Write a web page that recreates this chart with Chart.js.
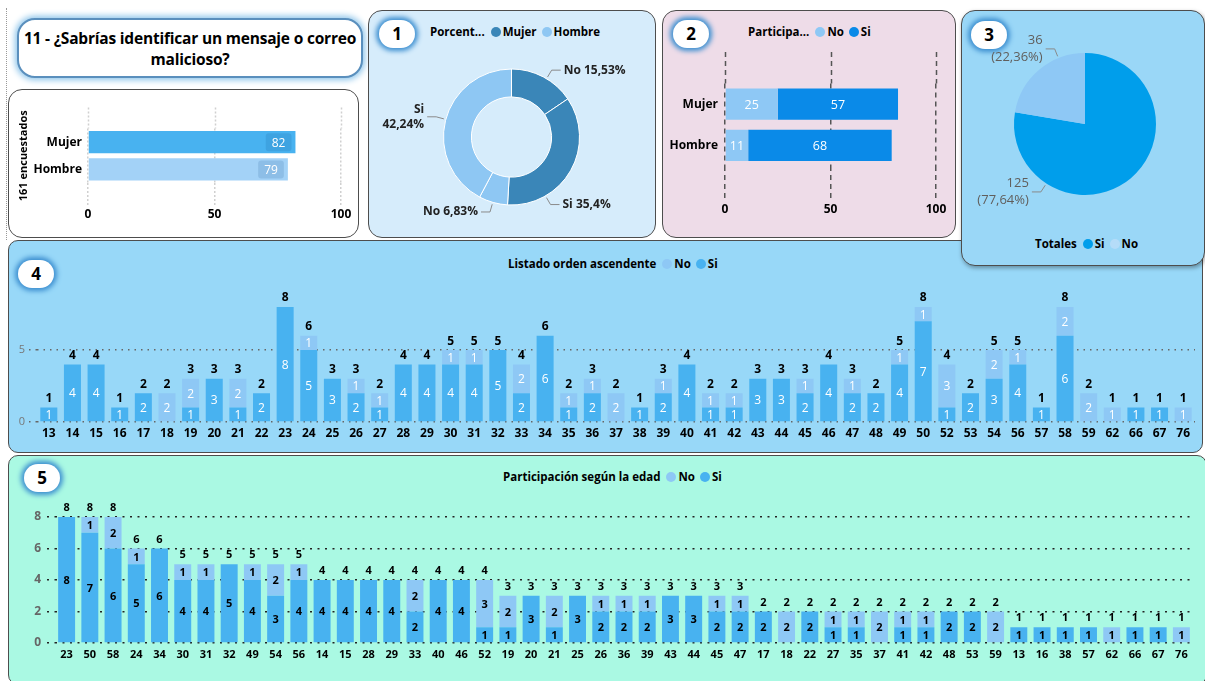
<!DOCTYPE html>
<html>
<head>
<meta charset="utf-8">
<script src="https://cdn.jsdelivr.net/npm/chart.js@4.4.0/dist/chart.umd.min.js"></script>
<style>
body{margin:0;width:1205px;height:681px;position:relative;overflow:hidden;background:#fff;font-family:"Open Sans",sans-serif;color:#000;}
.panel{position:absolute;border:1px solid #4d4d4d;border-radius:14px;box-sizing:border-box;}
.box{position:absolute;}
.badge{position:absolute;width:36px;height:28px;background:#fff;border-radius:14px;box-shadow:0 0 5px 3px #3d8fd0;font-weight:bold;font-size:17px;text-align:center;line-height:28px;}
.legend{position:absolute;font-size:11.5px;font-weight:bold;white-space:nowrap;line-height:14px;}
.dot{display:inline-block;width:10px;height:10px;border-radius:50%;margin:0 2px 0 5px;vertical-align:-1px;}
#title{position:absolute;left:17px;top:18px;width:346px;height:60px;box-sizing:border-box;background:#fff;border:2px solid #5a8fbd;border-radius:18px;box-shadow:0 0 6px 2px #8cc4ea;font-weight:bold;font-size:15.5px;letter-spacing:-0.2px;line-height:21px;text-align:center;padding-top:8px;white-space:nowrap;}
</style>
</head>
<body>
<div style="position:absolute;left:6px;top:8px;height:232px;border-left:1px dotted #999;"></div>

<div id="title">11 - ¿Sabrías identificar un mensaje o correo<br>malicioso?</div>

<div class="panel" style="left:8px;top:89px;width:351px;height:149px;background:#fff;"></div>
<div class="panel" style="left:368px;top:10px;width:288px;height:228px;background:#d6ecfb;"></div>
<div class="panel" style="left:662px;top:10px;width:294px;height:228px;background:#eedce8;"></div>
<div class="panel" style="left:8px;top:240px;width:1195px;height:213px;background:#98d8f8;border-radius:10px;"></div>
<div class="panel" style="left:961px;top:10px;width:244px;height:256px;background:#9ad7f7;box-shadow:1px 2px 4px rgba(0,0,0,0.35);"></div>
<div class="panel" style="left:8px;top:455px;width:1199px;height:230px;background:#aaf9e3;border-radius:10px;"></div>

<div class="badge" style="left:379px;top:20px;">1</div>
<div class="badge" style="left:673px;top:20px;">2</div>
<div class="badge" style="left:971px;top:21px;">3</div>
<div class="badge" style="left:18px;top:260px;">4</div>
<div class="badge" style="left:24px;top:464px;">5</div>

<div class="legend" style="left:430px;top:25px;">Porcent... <span class="dot" style="background:#3a86b8;margin-left:3px"></span>Mujer<span class="dot" style="background:#8ec7f3"></span>Hombre</div>
<div class="legend" style="left:748px;top:25px;">Participa... <span class="dot" style="background:#8ec8f5;margin-left:3px"></span>No<span class="dot" style="background:#0a8ae8"></span>Si</div>
<div class="legend" style="left:1035px;top:237px;">Totales <span class="dot" style="background:#009eeb;margin-left:3px"></span>Si<span class="dot" style="background:#b5dcf8"></span>No</div>
<div class="legend" style="left:508px;top:257px;">Listado orden ascendente <span class="dot" style="background:#8ec8f5;margin-left:3px"></span>No<span class="dot" style="background:#48b2f0"></span>Si</div>
<div class="legend" style="left:503px;top:470px;">Participación según la edad <span class="dot" style="background:#8ec8f5;margin-left:3px"></span>No<span class="dot" style="background:#48b2f0"></span>Si</div>

<div class="box" style="left:14px;top:100px;width:340px;height:123px;"><canvas id="cA"></canvas></div>
<div class="box" style="left:368px;top:52px;width:287px;height:170px;"><canvas id="c1"></canvas></div>
<div class="box" style="left:662px;top:50px;width:288px;height:166px;"><canvas id="c2"></canvas></div>
<div class="box" style="left:961px;top:20px;width:248px;height:208px;"><canvas id="c3"></canvas></div>
<div class="box" style="left:14px;top:282px;width:1190px;height:162px;"><canvas id="c4"></canvas></div>
<div class="box" style="left:14px;top:495px;width:1190px;height:172px;"><canvas id="c5"></canvas></div>

<script>
const genders = ['Mujer', 'Hombre'];
const genderTotals = [82, 79];
const genderNo = [25, 11];
const genderSi = [57, 68];

const donutLabels = ['Mujer No', 'Mujer Si', 'Hombre No', 'Hombre Si'];
const donutValues = [25, 57, 11, 68];
const donutText = ['No 15,53%', 'Si 35,4%', 'No 6,83%', 'Si\n42,24%'];

const totalLabels = ['Si', 'No'];
const totalValues = [125, 36];
const totalText = ['125\n(77,64%)', '36\n(22,36%)'];

const ages = ['13','14','15','16','17','18','19','20','21','22','23','24','25','26','27','28','29','30','31','32','33','34','35','36','37','38','39','40','41','42','43','44','45','46','47','48','49','50','52','53','54','56','57','58','59','62','66','67','76'];
const agesSi = [1,4,4,1,2,0,1,3,1,2,8,5,3,2,1,4,4,4,4,5,2,6,1,2,0,1,2,4,1,1,3,3,2,4,2,2,4,7,1,2,3,4,1,6,0,0,1,1,0];
const agesNo = [0,0,0,0,0,2,2,0,2,0,0,1,0,1,1,0,0,1,1,0,2,0,1,1,2,0,1,0,1,1,0,0,1,0,1,0,1,1,3,0,2,1,0,2,2,1,0,0,1];
const agesByTotal = ['23','50','58','24','34','30','31','32','49','54','56','14','15','28','29','33','40','46','52','19','20','21','25','26','36','39','43','44','45','47','17','18','22','27','35','37','41','42','48','53','59','13','16','38','57','62','66','67','76'];

// colours
const SI_BAR = '#48b2f0';
const NO_BAR = '#8ec8f5';

Chart.defaults.font.family = '"Open Sans", sans-serif';
Chart.defaults.animation = false;
Chart.defaults.plugins.legend.display = false;
Chart.defaults.plugins.tooltip.enabled = false;
Chart.defaults.responsive = true;
Chart.defaults.maintainAspectRatio = false;

// writes the values on bar segments, totals above stacks
const barText = {
    id: 'barText',
    afterDatasetsDraw(chart, args, o) {
        const ctx = chart.ctx;
        const horiz = chart.options.indexAxis === 'y';
        ctx.save();
        ctx.textAlign = 'center';
        ctx.textBaseline = 'middle';
        chart.data.datasets.forEach((ds, i) => {
            const meta = chart.getDatasetMeta(i);
            meta.data.forEach((bar, j) => {
                const v = ds.data[j];
                if (!v) return;
                const p = bar.getProps(['x', 'y', 'base'], true);
                ctx.font = o.font;
                if (o.box) {
                    const w = ctx.measureText(v).width + 12;
                    ctx.fillStyle = 'rgba(0,60,120,0.13)';
                    ctx.beginPath();
                    ctx.roundRect(p.x - 4 - w, p.y - 9, w, 18, 3);
                    ctx.fill();
                    ctx.fillStyle = o.color;
                    ctx.fillText(v, p.x - 4 - w / 2, p.y + 1);
                } else if (horiz) {
                    ctx.fillStyle = o.color;
                    ctx.fillText(v, (p.x + p.base) / 2, p.y + 1);
                } else {
                    ctx.fillStyle = o.color;
                    ctx.fillText(v, p.x, (p.y + p.base) / 2 + 1);
                }
            });
        });
        if (o.totals) {
            const yScale = chart.scales.y;
            const meta = chart.getDatasetMeta(0);
            ctx.font = o.totalFont;
            ctx.fillStyle = '#000';
            chart.data.labels.forEach((l, j) => {
                let t = 0;
                chart.data.datasets.forEach(ds => { t += ds.data[j]; });
                ctx.fillText(t, meta.data[j].x, yScale.getPixelForValue(t) - 9);
            });
        }
        ctx.restore();
    }
};

// draws the x grid lines a bit above the plot area
const gridUp = {
    id: 'gridUp',
    beforeDatasetsDraw(chart, args, o) {
        if (!o.up) return;
        const ctx = chart.ctx, xs = chart.scales.x, top = chart.chartArea.top;
        ctx.save();
        ctx.strokeStyle = o.color;
        ctx.lineWidth = o.width;
        ctx.setLineDash(o.dash);
        xs.ticks.forEach(t => {
            const x = Math.round(xs.getPixelForValue(t.value)) + 0.5;
            ctx.beginPath();
            ctx.moveTo(x, top - o.up);
            ctx.lineTo(x, top);
            ctx.stroke();
        });
        ctx.restore();
    }
};

// outside labels with leader lines for the pies
const arcText = {
    id: 'arcText',
    afterDatasetsDraw(chart, args, o) {
        const ctx = chart.ctx;
        const meta = chart.getDatasetMeta(0);
        ctx.save();
        ctx.font = o.font;
        ctx.fillStyle = o.color;
        ctx.strokeStyle = '#8a8a8a';
        ctx.lineWidth = 1;
        ctx.textBaseline = 'middle';
        meta.data.forEach((arc, i) => {
            const p = arc.getProps(['x', 'y', 'outerRadius'], true);
            const a = (o.angles[i] - 90) * Math.PI / 180;
            const c = Math.cos(a), s = Math.sin(a);
            const x0 = p.x + c * (p.outerRadius + 2), y0 = p.y + s * (p.outerRadius + 2);
            const x1 = p.x + c * (p.outerRadius + 10), y1 = p.y + s * (p.outerRadius + 10);
            const dir = c >= 0 ? 1 : -1;
            const x2 = x1 + dir * 9;
            ctx.beginPath();
            ctx.moveTo(x0, y0);
            ctx.lineTo(x1, y1);
            ctx.lineTo(x2, y1);
            ctx.stroke();
            ctx.textAlign = dir > 0 ? 'left' : 'right';
            const lines = o.text[i].split('\n');
            lines.forEach((t, k) => {
                ctx.fillText(t, x2 + dir * 3, y1 + (k - (lines.length - 1) / 2) * o.lineHeight);
            });
        });
        ctx.restore();
    }
};

const boldBlack = { color: '#000', font: { weight: 'bold', size: 12 } };

// ---- top-left: respondents by gender ----
new Chart(document.getElementById('cA'), {
    type: 'bar',
    data: {
        labels: genders,
        datasets: [{ data: genderTotals, backgroundColor: [SI_BAR, '#a3d2f7'] }]
    },
    options: {
        indexAxis: 'y',
        layout: { padding: { top: 28.5, right: 13 } },
        datasets: { bar: { categoryPercentage: 1, barPercentage: 0.82 } },
        plugins: {
            barText: { font: '12px "Open Sans"', color: '#fff', box: true },
            gridUp: { up: 21, color: '#d0d0d0', width: 1.5, dash: [2, 2] }
        },
        scales: {
            x: {
                min: 0, max: 100,
                ticks: { stepSize: 50, padding: 2, ...boldBlack },
                grid: { color: '#d0d0d0', lineWidth: 1.5, tickLength: 22, tickColor: '#d0d0d0', tickBorderDash: [2, 2] },
                border: { display: false, dash: [2, 2] },
                afterFit: s => { s.height = 40; }
            },
            y: {
                ticks: { padding: 6, ...boldBlack },
                grid: { display: false, drawTicks: false },
                border: { display: false },
                title: { display: true, text: '161 encuestados', color: '#000', font: { weight: 'bold', size: 11 }, padding: 3 },
                afterFit: s => { s.width = 74; }
            }
        }
    },
    plugins: [barText, gridUp]
});

// ---- 1: donut by gender and answer ----
new Chart(document.getElementById('c1'), {
    type: 'doughnut',
    data: {
        labels: donutLabels,
        datasets: [{
            data: donutValues,
            backgroundColor: ['#3a86b8', '#3a86b8', '#8ec7f3', '#8ec7f3'],
            borderColor: '#ffffff',
            borderWidth: 1
        }]
    },
    options: {
        radius: 68,
        cutout: '59%',
        plugins: {
            arcText: { text: donutText, angles: [31, 150, 196, 285], font: 'bold 12px "Open Sans"', color: '#222', lineHeight: 15 }
        }
    },
    plugins: [arcText]
});

// ---- 2: participation by gender ----
new Chart(document.getElementById('c2'), {
    type: 'bar',
    data: {
        labels: genders,
        datasets: [
            { label: 'No', data: genderNo, backgroundColor: NO_BAR },
            { label: 'Si', data: genderSi, backgroundColor: '#0a8ae8' }
        ]
    },
    options: {
        indexAxis: 'y',
        layout: { padding: { top: 33.5, right: 14 } },
        datasets: { bar: { categoryPercentage: 1, barPercentage: 0.76 } },
        plugins: {
            barText: { font: '12.5px "Open Sans"', color: '#fff' },
            gridUp: { up: 31.5, color: '#555', width: 1.5, dash: [5, 4] }
        },
        scales: {
            x: {
                stacked: true, min: 0, max: 100,
                ticks: { stepSize: 50, padding: 2, ...boldBlack },
                grid: { color: '#555', lineWidth: 1.5, tickLength: 34.5, tickColor: '#555', tickBorderDash: [5, 4] },
                border: { display: false, dash: [5, 4] },
                afterFit: s => { s.height = 50; }
            },
            y: {
                stacked: true,
                ticks: { padding: 7, ...boldBlack },
                grid: { display: false, drawTicks: false },
                border: { display: false },
                afterFit: s => { s.width = 63; }
            }
        }
    },
    plugins: [barText, gridUp]
});

// ---- 3: totals pie ----
new Chart(document.getElementById('c3'), {
    type: 'pie',
    data: {
        labels: totalLabels,
        datasets: [{ data: totalValues, backgroundColor: ['#009eeb', '#8ec8f5'], borderWidth: 0 }]
    },
    options: {
        radius: 71,
        plugins: {
            arcText: { text: totalText, angles: [213, 338], font: '13px "Open Sans"', color: '#605e5c', lineHeight: 17 }
        }
    },
    plugins: [arcText]
});

// ---- 4: ages ascending ----
new Chart(document.getElementById('c4'), {
    type: 'bar',
    data: {
        labels: ages,
        datasets: [
            { label: 'Si', data: agesSi, backgroundColor: SI_BAR },
            { label: 'No', data: agesNo, backgroundColor: NO_BAR }
        ]
    },
    options: {
        layout: { padding: { top: 7, right: 9 } },
        datasets: { bar: { categoryPercentage: 1, barPercentage: 0.72 } },
        plugins: {
            barText: { font: '12px "Open Sans"', color: '#fff', totals: true, totalFont: 'bold 12px "Open Sans"' }
        },
        scales: {
            x: {
                stacked: true,
                ticks: { autoSkip: false, maxRotation: 0, padding: 4, ...boldBlack },
                grid: { display: false, drawTicks: false },
                border: { display: false },
                afterFit: s => { s.height = 22; }
            },
            y: {
                stacked: true, min: 0, max: 9,
                afterBuildTicks: s => { s.ticks = s.ticks.filter(t => t.value % 5 === 0); },
                ticks: { color: '#777', font: { size: 11 }, padding: 4 },
                grid: { color: '#666', lineWidth: 1.5, tickLength: 8, tickColor: '#666', tickBorderDash: [1.5, 5] },
                border: { display: false, dash: [1.5, 5] },
                afterFit: s => { s.width = 23; }
            }
        }
    },
    plugins: [barText]
});

// ---- 5: ages sorted by participation ----
const sortedSi = agesByTotal.map(a => agesSi[ages.indexOf(a)]);
const sortedNo = agesByTotal.map(a => agesNo[ages.indexOf(a)]);

new Chart(document.getElementById('c5'), {
    type: 'bar',
    data: {
        labels: agesByTotal,
        datasets: [
            { label: 'Si', data: sortedSi, backgroundColor: SI_BAR },
            { label: 'No', data: sortedNo, backgroundColor: NO_BAR }
        ]
    },
    options: {
        layout: { padding: { top: 22, right: 11 } },
        datasets: { bar: { categoryPercentage: 1, barPercentage: 0.73 } },
        plugins: {
            barText: { font: 'bold 11px "Open Sans"', color: '#000', totals: true, totalFont: 'bold 11px "Open Sans"' }
        },
        scales: {
            x: {
                stacked: true,
                ticks: { autoSkip: false, maxRotation: 0, padding: 5, color: '#000', font: { weight: 'bold', size: 11 } },
                grid: { display: false, drawTicks: false },
                border: { display: false },
                afterFit: s => { s.height = 24; }
            },
            y: {
                stacked: true, min: 0, max: 8,
                ticks: { stepSize: 2, color: '#666', font: { weight: 'bold', size: 12 }, padding: 6 },
                grid: { color: '#222', lineWidth: 1.5, tickLength: 8, tickColor: '#222', tickBorderDash: [2, 5.5] },
                border: { display: false, dash: [2, 5.5] },
                afterFit: s => { s.width = 41; }
            }
        }
    },
    plugins: [barText]
});
</script>
</body>
</html>
